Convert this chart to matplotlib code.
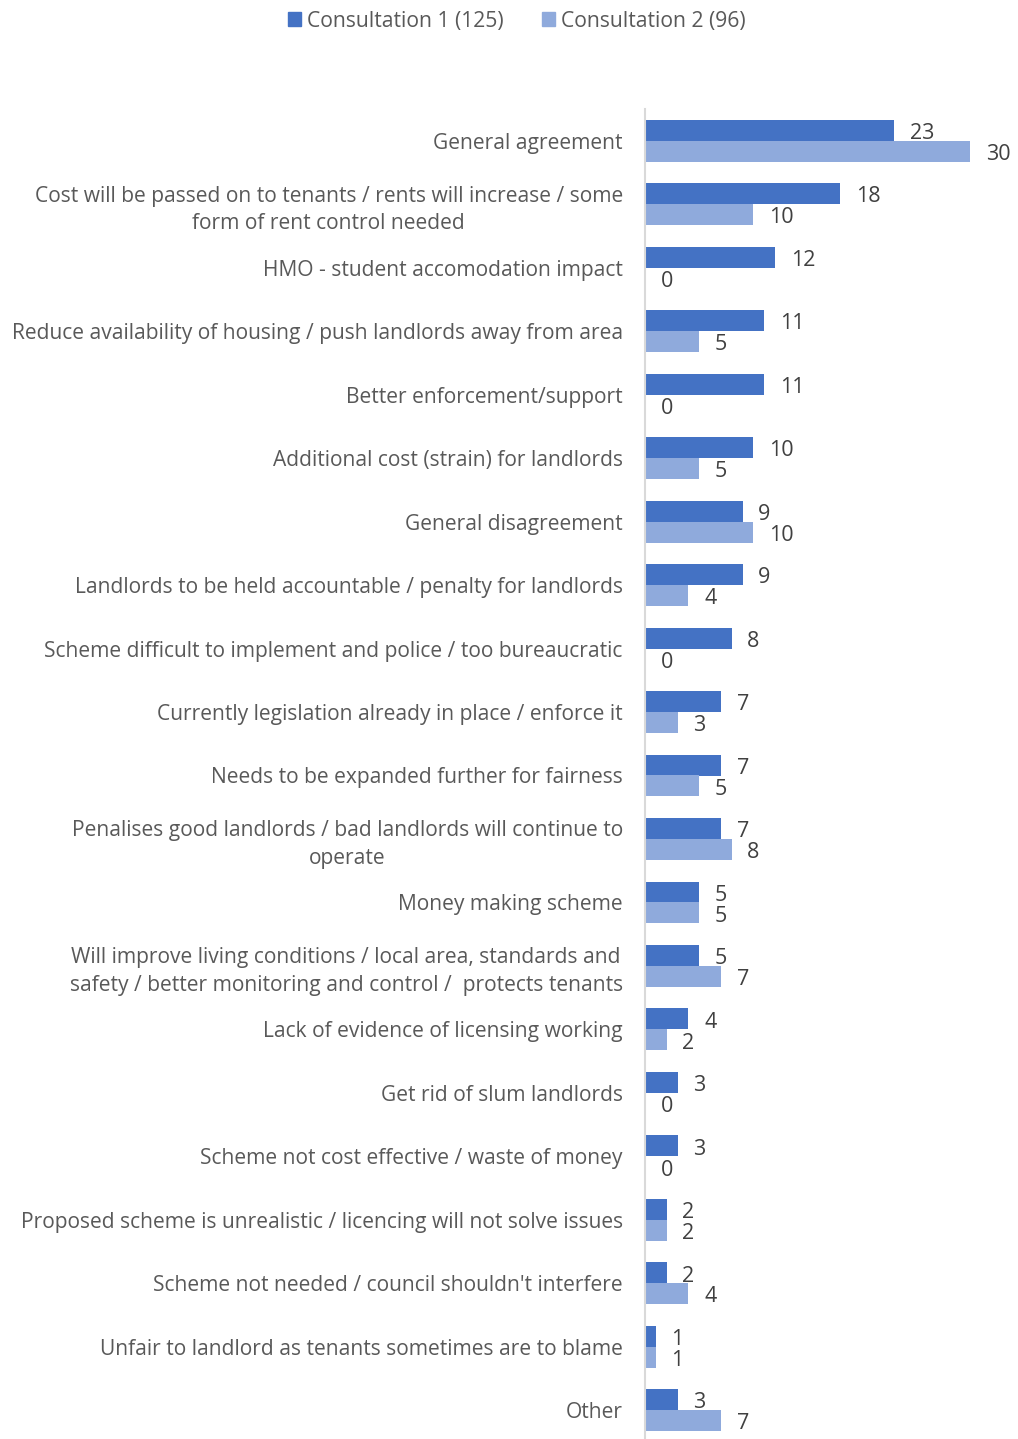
import matplotlib
matplotlib.use("Agg")
import matplotlib.pyplot as plt
from matplotlib.patches import Patch
import numpy as np

categories = [
    "General agreement",
    "Cost will be passed on to tenants / rents will increase / some\nform of rent control needed",
    "HMO - student accomodation impact",
    "Reduce availability of housing / push landlords away from area",
    "Better enforcement/support",
    "Additional cost (strain) for landlords",
    "General disagreement",
    "Landlords to be held accountable / penalty for landlords",
    "Scheme difficult to implement and police / too bureaucratic",
    "Currently legislation already in place / enforce it",
    "Needs to be expanded further for fairness",
    "Penalises good landlords / bad landlords will continue to\noperate",
    "Money making scheme",
    "Will improve living conditions / local area, standards and\nsafety / better monitoring and control /  protects tenants",
    "Lack of evidence of licensing working",
    "Get rid of slum landlords",
    "Scheme not cost effective / waste of money",
    "Proposed scheme is unrealistic / licencing will not solve issues",
    "Scheme not needed / council shouldn't interfere",
    "Unfair to landlord as tenants sometimes are to blame",
    "Other",
]
consultation_1 = [23, 18, 12, 11, 11, 10, 9, 9, 8, 7, 7, 7, 5, 5, 4, 3, 3, 2, 2, 1, 3]
consultation_2 = [30, 10, 0, 5, 0, 5, 10, 4, 0, 3, 5, 8, 5, 7, 2, 0, 0, 2, 4, 1, 7]
series_names = ["Consultation 1 (125)", "Consultation 2 (96)"]

plt.rcParams["font.family"] = ["Open Sans", "DejaVu Sans"]

W, H = 1018, 1439
fig = plt.figure(figsize=(W / 100, H / 100), dpi=100)
ax_left, ax_right = 645 / W, 1000 / W
ax_top, ax_bottom = 109 / H, 1442 / H
ax = fig.add_axes([ax_left, 1 - ax_bottom, ax_right - ax_left, ax_bottom - ax_top])

c1_color = "#4472C4"
c2_color = "#8FAADC"
n = len(categories)
y = np.arange(n)
bh = 0.33

ax.barh(y - bh / 2, consultation_1, height=bh, color=c1_color)
ax.barh(y + bh / 2, consultation_2, height=bh, color=c2_color)

xmax = 30 * (1000 - 645) / (970 - 645)
ax.set_xlim(0, xmax)
ax.set_ylim(n - 0.5, -0.5)

for yi, v in zip(y, consultation_1):
    ax.text(v + 1.45, yi - bh / 2 + 0.05, str(v), va="center", ha="left",
            fontsize=15.5, color="#404040", clip_on=False)
for yi, v in zip(y, consultation_2):
    ax.text(v + 1.45, yi + bh / 2 + 0.05, str(v), va="center", ha="left",
            fontsize=15.5, color="#404040", clip_on=False)

ax.set_yticks(y)
ax.set_yticklabels(categories, fontsize=15.1, color="#595959",
                   multialignment="center", linespacing=1.4)
ax.tick_params(axis="y", length=0, pad=16)
ax.set_xticks([])
for s in ["top", "right", "bottom"]:
    ax.spines[s].set_visible(False)
ax.spines["left"].set_color("#D9D9D9")
ax.spines["left"].set_linewidth(1.5)

handles = [Patch(color=c1_color, label=series_names[0]),
           Patch(color=c2_color, label=series_names[1])]
leg = fig.legend(handles=handles, loc="center", bbox_to_anchor=(517 / W, 1 - 21 / H),
                 ncol=2, frameon=False, fontsize=15.2, handlelength=0.6,
                 handleheight=0.6, handletextpad=0.3, columnspacing=1.8)
for t in leg.get_texts():
    t.set_color("#595959")

fig.savefig("out.png", dpi=100)
